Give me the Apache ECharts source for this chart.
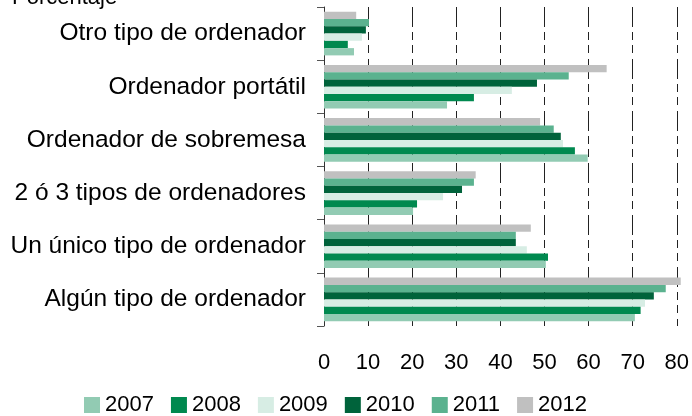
<!DOCTYPE html>
<html>
<head>
<meta charset="utf-8">
<script src="https://cdn.jsdelivr.net/npm/echarts@6/dist/echarts.min.js"></script>
<style>
  html, body { margin: 0; padding: 0; background: #fff; }
  #chart { width: 692px; height: 416px; }
</style>
</head>
<body>
<div id="chart"></div>
<script>
var chart = echarts.init(document.getElementById('chart'));

// categories, bottom to top
var categories = ['Algún tipo de ordenador', 'Un único tipo de ordenador', '2 ó 3 tipos de ordenadores',
  'Ordenador de sobremesa', 'Ordenador portátil', 'Otro tipo de ordenador'];

var years = ['2007', '2008', '2009', '2010', '2011', '2012'];

var v2007 = [70.5, 50.3, 20.2, 59.8, 27.9, 6.8];
var v2008 = [71.8, 50.8, 21.1, 56.9, 34.0, 5.4];
var v2009 = [72.8, 46.0, 27.0, 54.2, 42.6, 8.6];
var v2010 = [74.8, 43.5, 31.3, 53.7, 48.3, 9.5];
var v2011 = [77.5, 43.5, 34.0, 52.1, 55.5, 10.2];
var v2012 = [80.9, 46.9, 34.4, 49.0, 64.1, 7.3];

var xTicks = [0, 10, 20, 30, 40, 50, 60, 70, 80];

var allValues = [v2007, v2008, v2009, v2010, v2011, v2012];
var colors = ['#92cbb3', '#00894f', '#d7ede4', '#00633b', '#5bb28f', '#c0c0c0'];

// echarts puts the first series at the top of the band, so add them newest first
var series = [];
for (var i = years.length - 1; i >= 0; i--) {
  series.push({
    name: years[i],
    type: 'bar',
    data: allValues[i],
    barGap: 0,
    barCategoryGap: '18%',
    clip: false,
    itemStyle: { color: colors[i] }
  });
}

var font = 'Liberation Sans, Arial, sans-serif';

var option = {
  animation: false,
  textStyle: { fontFamily: font },
  grid: { left: 324, right: 15, top: 7, bottom: 90 },
  graphic: [
    {
      type: 'text',
      left: 12,
      top: -13,
      style: { text: 'Porcentaje', font: '22px ' + font, fill: '#000' }
    }
  ],
  legend: {
    left: 79,
    top: 389,
    itemWidth: 16,
    itemHeight: 16,
    itemGap: 17,
    icon: 'rect',
    textStyle: { fontSize: 22, color: '#000', fontFamily: font },
    data: years
  },
  xAxis: {
    type: 'value',
    min: xTicks[0],
    max: xTicks[xTicks.length - 1],
    interval: 10,
    axisLine: { show: false },
    axisTick: { show: false },
    axisLabel: { fontSize: 22, color: '#000', margin: 26, fontFamily: font },
    splitLine: {
      show: true,
      lineStyle: { color: '#222', width: 1, type: [20, 5, 8, 5, 8, 6] }
    }
  },
  yAxis: {
    type: 'category',
    data: categories,
    axisLine: { show: true, lineStyle: { color: '#333', width: 1 } },
    axisTick: { show: true, length: 7, lineStyle: { color: '#555' } },
    axisLabel: { fontSize: 24.5, color: '#000', margin: 18, fontFamily: font }
  },
  series: series
};

chart.setOption(option);
</script>
</body>
</html>
